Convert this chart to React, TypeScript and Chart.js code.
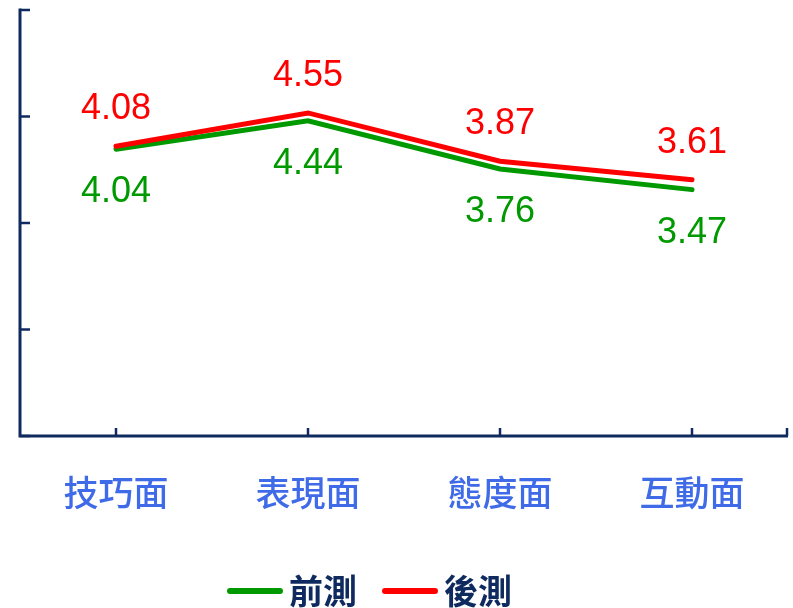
import React, { useEffect, useRef } from "react";
import { Chart, registerables } from "chart.js";

Chart.register(...registerables);

const categories = ["技巧面", "表現面", "態度面", "互動面"];
const preTest = [4.04, 4.44, 3.76, 3.47];
const postTest = [4.08, 4.55, 3.87, 3.61];
const seriesNames = ["前測", "後測"];
const yMin = 0;
const yMax = 6;
const yStep = 1.5;

const AXIS_COLOR = "#0f2a5f";
const GREEN = "#009900";
const RED = "#ff0000";

const axesPlugin = {
  id: "customAxes",
  afterDatasetsDraw(chart: any) {
    const { ctx, chartArea, scales } = chart;
    const { left, right, top, bottom } = chartArea;
    ctx.save();
    ctx.strokeStyle = AXIS_COLOR;
    ctx.lineWidth = 3;
    ctx.lineCap = "butt";
    ctx.beginPath();
    ctx.moveTo(left, top - 1.5);
    ctx.lineTo(left, bottom);
    ctx.lineTo(right, bottom);
    ctx.stroke();
    ctx.lineWidth = 2.5;
    scales.y.ticks.forEach((t: any) => {
      const y = scales.y.getPixelForValue(t.value);
      ctx.beginPath();
      ctx.moveTo(left, y);
      ctx.lineTo(left + 10, y);
      ctx.stroke();
    });
    const xs: number[] = categories.map((_, i) => scales.x.getPixelForValue(i));
    xs.push(right - 1);
    xs.forEach((x) => {
      ctx.beginPath();
      ctx.moveTo(x, bottom);
      ctx.lineTo(x, bottom - 8);
      ctx.stroke();
    });
    ctx.restore();
  },
};

const labelsPlugin = {
  id: "valueLabels",
  afterDatasetsDraw(chart: any) {
    const { ctx } = chart;
    ctx.save();
    ctx.font = "36px 'Liberation Sans', Arial, sans-serif";
    ctx.textAlign = "center";
    ctx.textBaseline = "middle";
    chart.data.datasets.forEach((ds: any, di: number) => {
      const meta = chart.getDatasetMeta(di);
      const offset = ds.labelOffset;
      ctx.fillStyle = ds.borderColor;
      meta.data.forEach((pt: any, i: number) => {
        ctx.fillText(ds.data[i].toFixed(2), pt.x, pt.y + offset);
      });
    });
    ctx.restore();
  },
};

const legendPlugin = {
  id: "customLegend",
  afterDraw(chart: any) {
    const { ctx } = chart;
    ctx.save();
    ctx.font = "bold 34px 'Noto Sans CJK TC', sans-serif";
    ctx.textBaseline = "middle";
    const lineW = 56;
    const gap = 6;
    const itemGap = 25;
    const items = chart.data.datasets.map((ds: any) => ({
      label: ds.label,
      color: ds.borderColor,
      w: ctx.measureText(ds.label).width,
    }));
    let total = 0;
    items.forEach((it: any, i: number) => {
      total += lineW + gap + it.w + (i > 0 ? itemGap : 0);
    });
    let x = 369.5 - total / 2;
    const y = 591;
    items.forEach((it: any, i: number) => {
      if (i > 0) x += itemGap;
      ctx.strokeStyle = it.color;
      ctx.lineWidth = 6;
      ctx.lineCap = "round";
      ctx.beginPath();
      ctx.moveTo(x + 3, y);
      ctx.lineTo(x + lineW - 3, y);
      ctx.stroke();
      x += lineW + gap;
      ctx.fillStyle = AXIS_COLOR;
      ctx.fillText(it.label, x, y);
      x += it.w;
    });
    ctx.restore();
  },
};

export default function App() {
  const ref = useRef<HTMLCanvasElement | null>(null);
  useEffect(() => {
    if (!ref.current) return;
    const chart = new Chart(ref.current, {
      type: "line",
      data: {
        labels: categories,
        datasets: [
          {
            label: seriesNames[0],
            data: preTest,
            borderColor: GREEN,
            backgroundColor: GREEN,
            borderWidth: 5,
            pointRadius: 0,
            borderJoinStyle: "miter",
            borderCapStyle: "round",
            tension: 0,
            order: 1,
            labelOffset: 43,
          } as any,
          {
            label: seriesNames[1],
            data: postTest,
            borderColor: RED,
            backgroundColor: RED,
            borderWidth: 5,
            pointRadius: 0,
            borderJoinStyle: "miter",
            borderCapStyle: "round",
            tension: 0,
            order: 0,
            labelOffset: -37,
          } as any,
        ],
      },
      options: {
        animation: false,
        responsive: false,
        maintainAspectRatio: false,
        events: [],
        layout: { padding: { left: 20, right: 5, top: 10, bottom: 0 } },
        plugins: {
          legend: { display: false },
          tooltip: { enabled: false },
          title: { display: false },
        },
        scales: {
          x: {
            type: "category",
            offset: true,
            grid: { display: false, drawTicks: false },
            border: { display: false },
            ticks: {
              color: "#3f6ae8",
              font: { family: "'Noto Sans CJK TC', sans-serif", size: 35, weight: 500 },
              padding: 36,
              maxRotation: 0,
              autoSkip: false,
            },
            afterFit: (s: any) => {
              s.height = 172;
            },
          },
          y: {
            min: yMin,
            max: yMax,
            ticks: { display: false, stepSize: yStep },
            grid: { display: false, drawTicks: false },
            border: { display: false },
            afterFit: (s: any) => {
              s.width = 0;
            },
          },
        },
      },
      plugins: [axesPlugin, labelsPlugin, legendPlugin],
    });
    return () => chart.destroy();
  }, []);
  return (
    <div style={{ position: "fixed", left: 0, top: 0, width: 793, height: 608, background: "#fff" }}>
      <canvas ref={ref} width={793} height={608} style={{ display: "block" }} />
    </div>
  );
}
